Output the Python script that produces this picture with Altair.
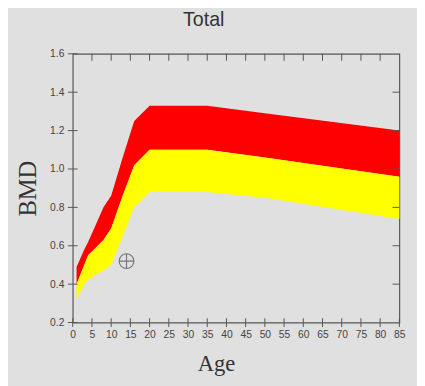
import altair as alt
import pandas as pd

# ---- data ----
ages = [1, 3, 4, 6, 8, 10, 13, 16, 20, 35, 50, 85]
red_top = [0.49, 0.58, 0.62, 0.71, 0.80, 0.86, 1.06, 1.25, 1.33, 1.33, 1.29, 1.20]
yellow_top = [0.40, 0.50, 0.55, 0.59, 0.63, 0.69, 0.86, 1.02, 1.10, 1.10, 1.06, 0.96]
yellow_bottom = [0.32, 0.40, 0.42, 0.45, 0.47, 0.50, 0.65, 0.80, 0.88, 0.88, 0.85, 0.74]

x_ticks = [0, 5, 10, 15, 20, 25, 30, 35, 40, 45, 50, 55, 60, 65, 70, 75, 80, 85]
y_ticks = [0.2, 0.4, 0.6, 0.8, 1.0, 1.2, 1.4, 1.6]

marker_age = [14]
marker_bmd = [0.52]

X_MIN, X_MAX = 0, 85
Y_MIN, Y_MAX = 0.2, 1.6

# ---- tables ----
bands = pd.DataFrame({"age": ages, "red_top": red_top,
                      "yellow_top": yellow_top, "yellow_bottom": yellow_bottom})
left_ticks = pd.DataFrame({"age": [X_MIN] * len(y_ticks), "bmd": y_ticks})
right_ticks = pd.DataFrame({"age": [X_MAX] * len(y_ticks[1:-1]), "bmd": y_ticks[1:-1]})
bottom_ticks = pd.DataFrame({"age": x_ticks, "bmd": [Y_MIN] * len(x_ticks)})
top_ticks = pd.DataFrame({"age": x_ticks[1:-1], "bmd": [Y_MAX] * len(x_ticks[1:-1])})
marker = pd.DataFrame({"age": marker_age, "bmd": marker_bmd})

xscale = alt.Scale(domain=[X_MIN, X_MAX], nice=False, zero=False)
yscale = alt.Scale(domain=[Y_MIN, Y_MAX], nice=False, zero=False)

xaxis = alt.Axis(values=x_ticks, ticks=False, domain=False, grid=False,
                 labelFontSize=10.5, labelColor="#444", labelFont="Liberation Sans",
                 labelPadding=7, labelFlush=False, labelOverlap=False,
                 title="Age", titleFont="Liberation Serif", titleFontSize=23,
                 titleFontWeight="normal", titleColor="#333",
                 titleX=146, titleY=49, titleBaseline="alphabetic")
yaxis = alt.Axis(values=y_ticks, format=".1f", ticks=False, domain=False, grid=False,
                 labelFontSize=10.5, labelColor="#444", labelFont="Liberation Sans",
                 labelPadding=9, labelFlush=False, labelOverlap=False,
                 title="BMD", titleFont="Liberation Serif", titleFontSize=25,
                 titleFontWeight="normal", titleColor="#333",
                 titleX=-46, titleY=137, titleBaseline="middle", titleAngle=270)


def X(field="age"):
    return alt.X(f"{field}:Q", scale=xscale, axis=xaxis)


def Y(field="bmd"):
    return alt.Y(f"{field}:Q", scale=yscale, axis=yaxis)


red = alt.Chart(bands).mark_area(color="#ff0000", opacity=1).encode(
    x=X(), y=Y("red_top"), y2="yellow_top:Q")
yellow = alt.Chart(bands).mark_area(color="#ffff00", opacity=1).encode(
    x=X(), y=Y("yellow_top"), y2="yellow_bottom:Q")

tick_color = "#555"
lt = alt.Chart(left_ticks).mark_tick(orient="horizontal", size=10, thickness=1,
                                     color=tick_color, opacity=1).encode(x=X(), y=Y())
rt = alt.Chart(right_ticks).mark_tick(orient="horizontal", size=7, thickness=1,
                                      xOffset=-3.5, color=tick_color, opacity=1).encode(x=X(), y=Y())
bt = alt.Chart(bottom_ticks).mark_tick(orient="vertical", size=9, thickness=1,
                                       color=tick_color, opacity=1).encode(x=X(), y=Y())
tt = alt.Chart(top_ticks).mark_tick(orient="vertical", size=7, thickness=1,
                                    yOffset=3.5, color=tick_color, opacity=1).encode(x=X(), y=Y())

cross_shape = "M -1 0 A 1 1 0 1 1 1 0 A 1 1 0 1 1 -1 0 M -1 0 L 1 0 M 0 -1 L 0 1"
mk = alt.Chart(marker).mark_point(shape=cross_shape, size=225, filled=False,
                                  stroke="#777", strokeWidth=1.2, opacity=1).encode(x=X(), y=Y())

chart = alt.layer(red, yellow, lt, rt, bt, tt, mk).properties(
    width=333, height=274,
    title=alt.TitleParams("Total", fontSize=20, font="Liberation Sans",
                          fontWeight="normal", color="#333", anchor="middle",
                          dx=-33, offset=3, baseline="alphabetic"),
    autosize=alt.AutoSizeParams(type="none"),
    padding={"left": 66, "top": 43, "right": 18, "bottom": 61},
    background="#e0e0e0",
).configure_view(stroke="#555", strokeWidth=1.2)

chart.save("out.html", embed_options={"renderer": "svg", "actions": False})
